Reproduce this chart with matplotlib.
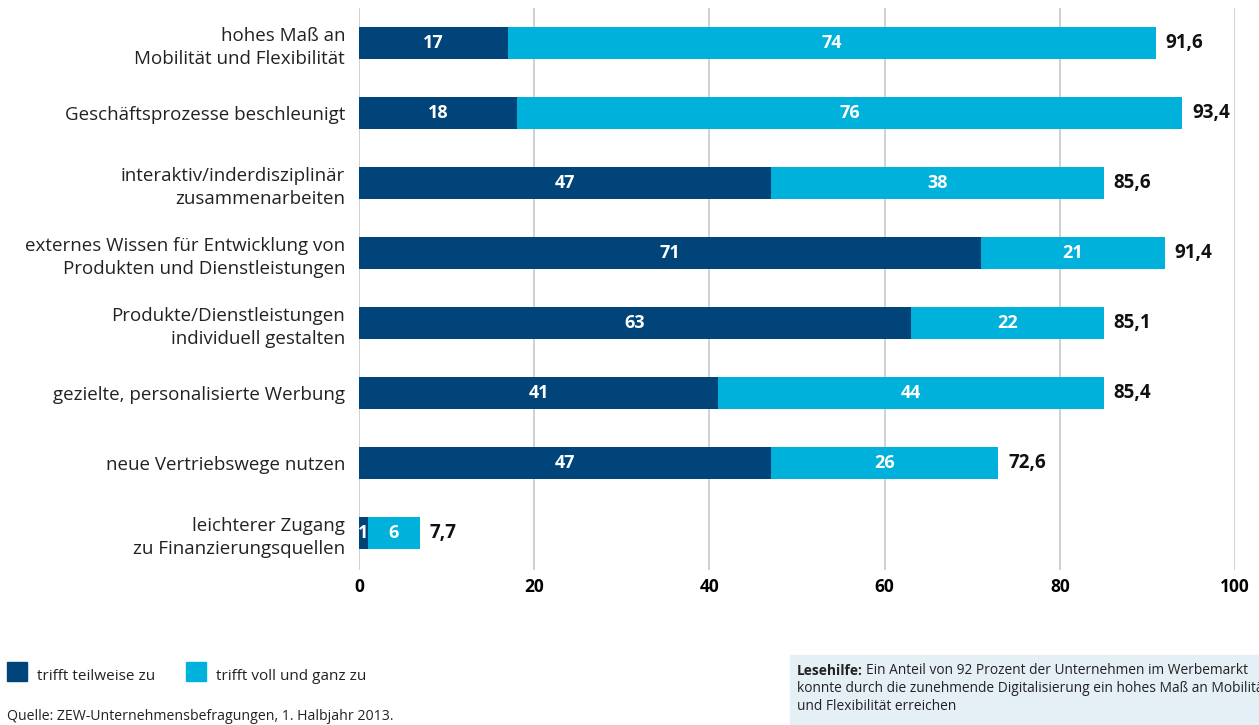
import matplotlib
matplotlib.use("Agg")
import matplotlib.pyplot as plt
from matplotlib.patches import Rectangle

plt.rcParams['font.family'] = ['Open Sans', 'DejaVu Sans']

categories = [
    "hohes Maß an\nMobilität und Flexibilität",
    "Geschäftsprozesse beschleunigt",
    "interaktiv/inderdisziplinär\nzusammenarbeiten",
    "externes Wissen für Entwicklung von\nProdukten und Dienstleistungen",
    "Produkte/Dienstleistungen\nindividuell gestalten",
    "gezielte, personalisierte Werbung",
    "neue Vertriebswege nutzen",
    "leichterer Zugang\nzu Finanzierungsquellen",
]
teilweise = [17, 18, 47, 71, 63, 41, 47, 1]
voll = [74, 76, 38, 21, 22, 44, 26, 6]
totals = ["91,6", "93,4", "85,6", "91,4", "85,1", "85,4", "72,6", "7,7"]
xticks = [0, 20, 40, 60, 80, 100]
series_names = ["trifft teilweise zu", "trifft voll und ganz zu"]

dark = "#00447a"
light = "#00b1dc"
W, H = 1259, 725

fig = plt.figure(figsize=(W / 100, H / 100), dpi=100)
ax = fig.add_axes([359 / W, 1 - 570 / H, (1235 - 359) / W, (570 - 8) / H])

y = list(range(len(categories)))
bh = 0.46
ax.barh(y, teilweise, height=bh, color=dark, zorder=3)
ax.barh(y, voll, left=teilweise, height=bh, color=light, zorder=3)

vfs = 13
for i in y:
    ax.text(teilweise[i] / 2, i, str(teilweise[i]), color="white", fontweight="bold",
            ha="center", va="center", fontsize=vfs, zorder=4)
    ax.text(teilweise[i] + voll[i] / 2, i, str(voll[i]), color="white", fontweight="bold",
            ha="center", va="center", fontsize=vfs, zorder=4)
    ax.text(teilweise[i] + voll[i] + 1.1, i, totals[i], color="#111111", fontweight="bold",
            ha="left", va="center", fontsize=13.5, zorder=4)

ax.set_xlim(0, 100)
ax.set_ylim(len(categories) - 0.47, -0.5)
ax.set_xticks(xticks)
ax.set_xticklabels([str(t) for t in xticks], fontweight="bold", fontsize=12.5)
ax.set_yticks(y)
ax.set_yticklabels(categories, fontsize=13.5, color="#222222", linespacing=1.38)
ax.tick_params(axis="y", length=0, pad=10)
ax.tick_params(axis="x", length=0, pad=6)
for s in ax.spines.values():
    s.set_visible(False)
ax.grid(axis="x", color="#c9cdd1", linewidth=1.3, zorder=0)
ax.set_axisbelow(True)

# Legend
fig.add_artist(Rectangle((7 / W, 1 - 681 / H), 20 / W, 19 / H, color=dark, transform=fig.transFigure))
fig.text(37 / W, 1 - 677 / H, series_names[0], fontsize=11, va="center", color="#222222")
fig.add_artist(Rectangle((186 / W, 1 - 681 / H), 20 / W, 19 / H, color=light, transform=fig.transFigure))
fig.text(216 / W, 1 - 677 / H, series_names[1], fontsize=11, va="center", color="#222222")

fig.text(7 / W, 1 - 716 / H, "Quelle: ZEW-Unternehmensbefragungen, 1. Halbjahr 2013.",
         fontsize=10.2, va="center", color="#222222")

# Lesehilfe box
fig.add_artist(Rectangle((790 / W, 1 - 724 / H), (W - 790) / W, 69 / H,
                         color="#e4eff6", transform=fig.transFigure, zorder=0))
lfs = 9.9
bold = fig.text(797 / W, 1 - 671 / H, "Lesehilfe:", fontsize=lfs, fontweight="bold",
                va="center", color="#222222")
fig.canvas.draw()
bb = bold.get_window_extent(renderer=fig.canvas.get_renderer())
fig.text(bb.x1 / W + 3 / W, 1 - 671 / H,
         "Ein Anteil von 92 Prozent der Unternehmen im Werbemarkt",
         fontsize=lfs, va="center", color="#222222")
fig.text(797 / W, 1 - 689 / H,
         "konnte durch die zunehmende Digitalisierung ein hohes Maß an Mobilität",
         fontsize=lfs, va="center", color="#222222")
fig.text(797 / W, 1 - 707 / H, "und Flexibilität erreichen",
         fontsize=lfs, va="center", color="#222222")

fig.savefig("out.png", dpi=100)
